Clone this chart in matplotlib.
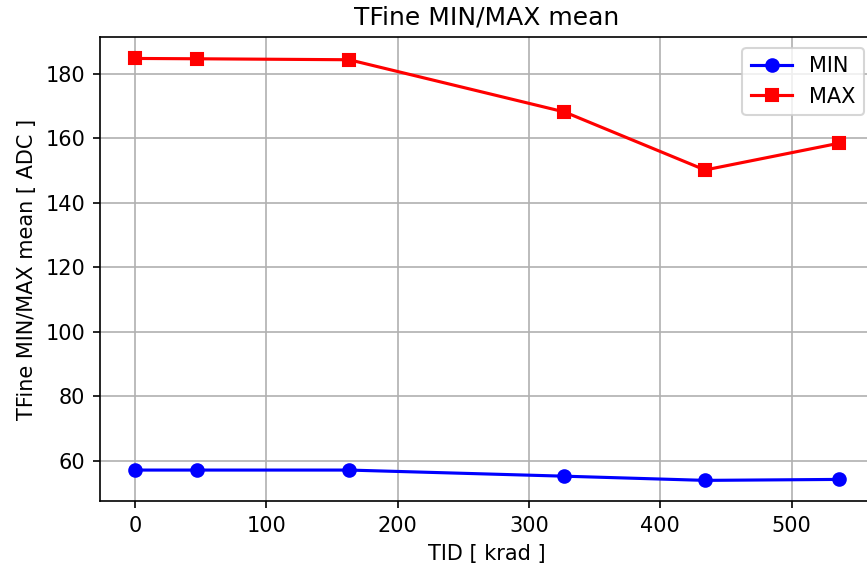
import matplotlib
matplotlib.use("Agg")
import matplotlib.pyplot as plt

tid = [0, 47, 163, 327, 434, 536]
tfine_min = [57.1, 57.1, 57.1, 55.2, 53.9, 54.2]
tfine_max = [184.8, 184.7, 184.4, 168.2, 150.2, 158.5]

fig = plt.figure(figsize=(867 / 150, 566 / 150), dpi=150)
# axes runs past the right edge like the cropped original
ax = fig.add_axes([0.1151, 0.114, 1.0083 - 0.1151, 0.934 - 0.114])
ax.plot(tid, tfine_min, 'b-o', label="MIN")
ax.plot(tid, tfine_max, 'r-s', label="MAX")
ax.legend(loc="upper right")
ax.grid()
ax.set_title("TFine MIN/MAX mean")
ax.set_xlabel("TID [ krad ]")
ax.set_ylabel("TFine MIN/MAX mean [ ADC ]")
fig.savefig("out.png", dpi=150)
plt.close(fig)
